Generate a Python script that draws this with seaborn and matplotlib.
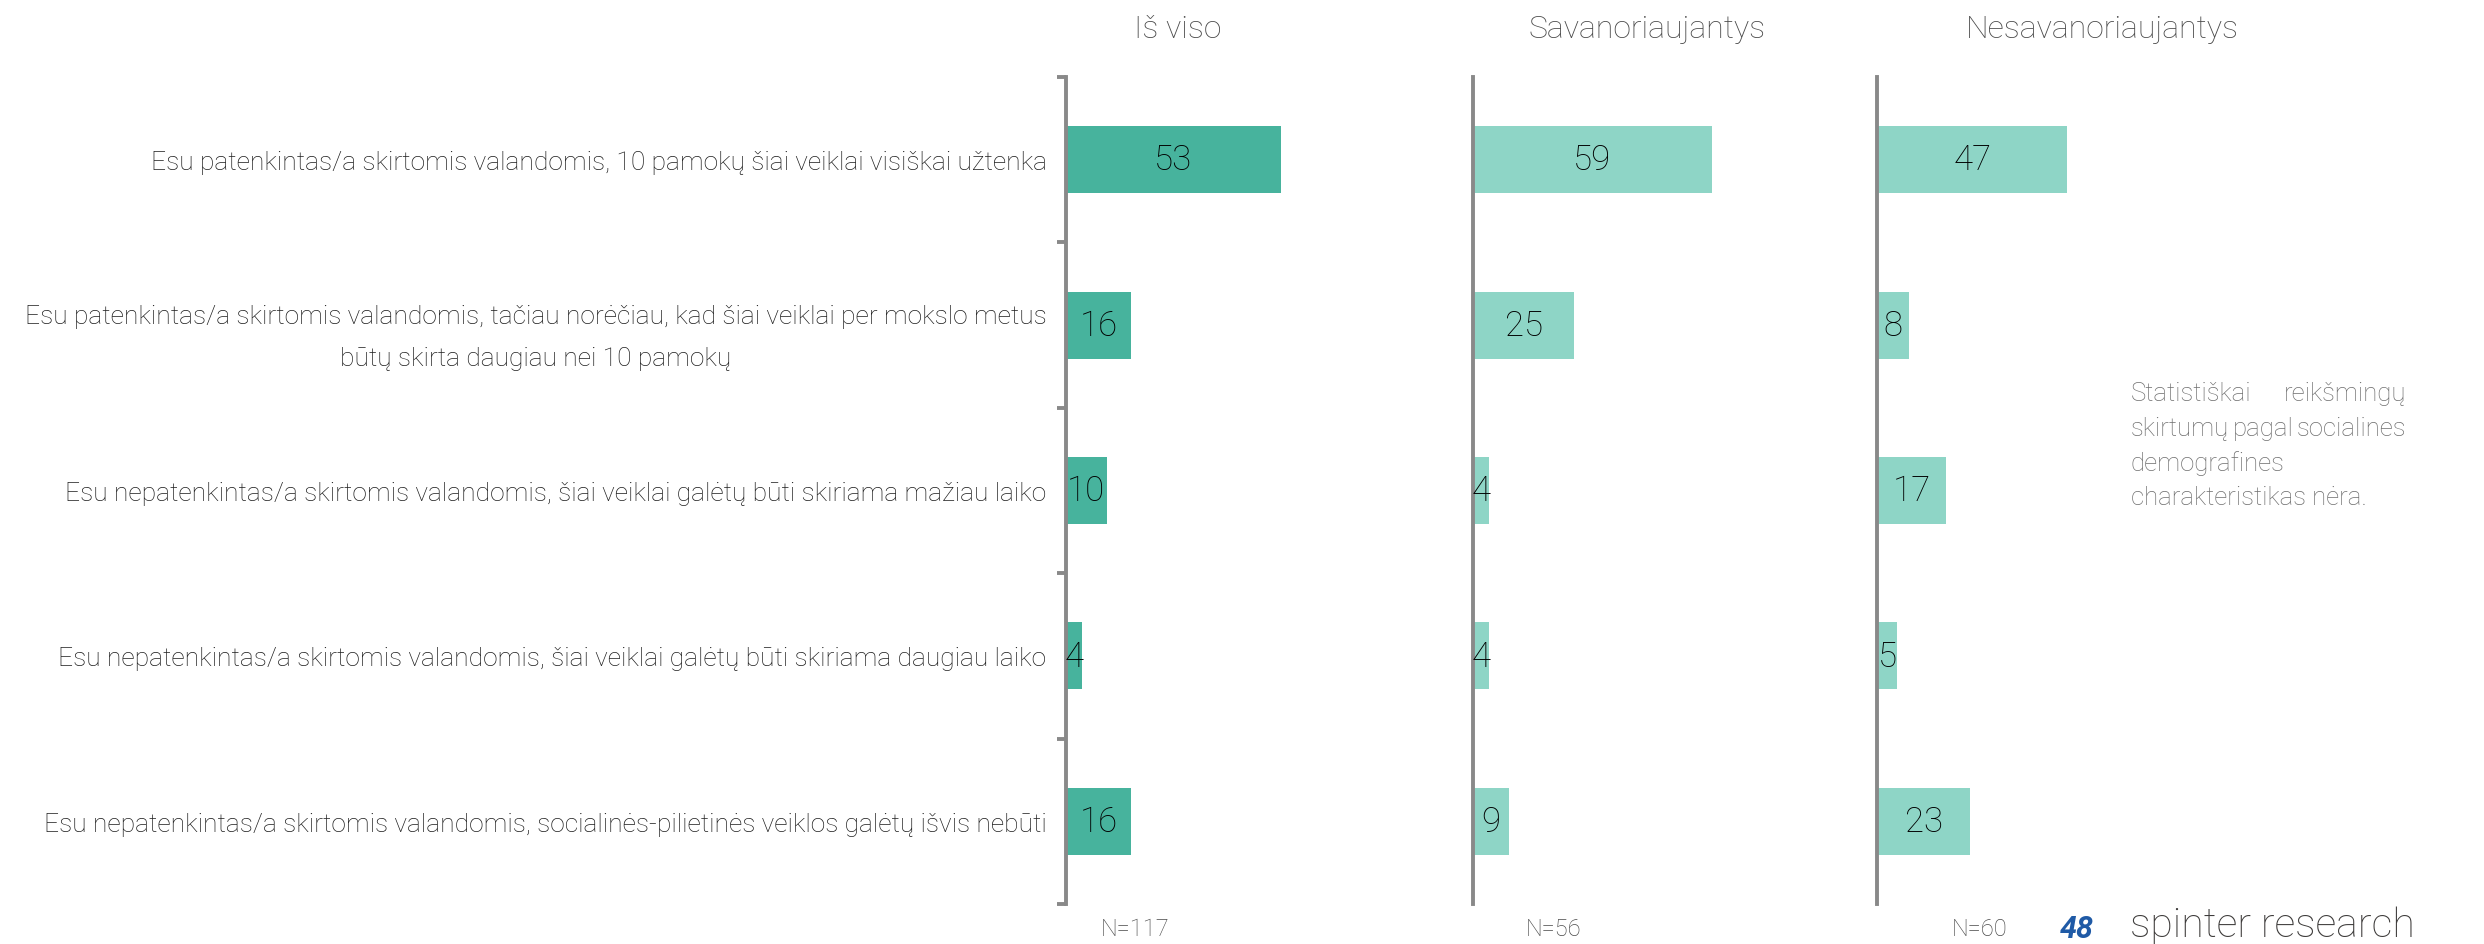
import matplotlib
matplotlib.use("Agg")
import matplotlib.pyplot as plt
import seaborn as sns
import pandas as pd
import numpy as np

categories = [
    "Esu patenkintas/a skirtomis valandomis, 10 pamokų šiai veiklai visiškai užtenka",
    "Esu patenkintas/a skirtomis valandomis, tačiau norėčiau, kad šiai veiklai per mokslo metus\nbūtų skirta daugiau nei 10 pamokų",
    "Esu nepatenkintas/a skirtomis valandomis, šiai veiklai galėtų būti skiriama mažiau laiko",
    "Esu nepatenkintas/a skirtomis valandomis, šiai veiklai galėtų būti skiriama daugiau laiko",
    "Esu nepatenkintas/a skirtomis valandomis, socialinės-pilietinės veiklos galėtų išvis nebūti",
]
groups = ["Iš viso", "Savanoriaujantys", "Nesavanoriaujantys"]
values_total = [53, 16, 10, 4, 16]
values_vol = [59, 25, 4, 4, 9]
values_nonvol = [47, 8, 17, 5, 23]
sample_sizes = ["N=117", "N=56", "N=60"]
note_lines = [["Statistiškai", "reikšmingų"],
              ["skirtumų", "pagal", "socialines"],
              ["demografines"],
              ["charakteristikas nėra."]]

sns.set_theme(style="white")
plt.rcParams['font.family'] = ['Roboto', 'DejaVu Sans']

W, H = 2484, 945
fig = plt.figure(figsize=(W / 100, H / 100), dpi=100)

colors = ["#47b39d", "#8ed5c6", "#8ed5c6"]
series = [values_total, values_vol, values_nonvol]
lefts = [1066, 1473, 1877]
panel_w = 405
top_px, bot_px = 78, 905
title_x = [1178, 1647, 2102]
n_x = [1135, 1554, 1980]
fw = "light"

for i, (g, vals) in enumerate(zip(groups, series)):
    ax = fig.add_axes([lefts[i] / W, 1 - bot_px / H, panel_w / W, (bot_px - top_px) / H])
    df = pd.DataFrame({"cat": categories, "val": vals})
    sns.barplot(data=df, x="val", y="cat", ax=ax, color=colors[i], width=0.405,
                saturation=1, order=categories, edgecolor="none")
    ax.set_xlim(0, 100)
    ax.set_ylim(len(categories) - 0.5, -0.5)
    ax.set_xlabel("")
    ax.set_ylabel("")
    ax.set_xticks([])
    for s in ["top", "right", "bottom"]:
        ax.spines[s].set_visible(False)
    ax.spines["left"].set_color("#898989")
    ax.spines["left"].set_linewidth(2.8)
    ax.patch.set_alpha(0)
    if i == 0:
        ax.set_yticks(range(len(categories)))
        ax.set_yticklabels(categories, fontsize=19, color="#1e1e1e", fontweight=fw,
                           linespacing=1.95)
        for lbl in ax.get_yticklabels():
            lbl.set_multialignment("center")
        ax.tick_params(axis="y", which="major", length=0, pad=14)
        ax.set_yticks(np.arange(-0.5, len(categories), 1.0), minor=True)
        ax.tick_params(axis="y", which="minor", length=6.5, width=2.8, color="#898989", left=True)
    else:
        ax.set_yticks([])
    for c in ax.containers:
        ax.bar_label(c, label_type="center", fontsize=25, color="#000000", fontweight=fw)
    fig.text(title_x[i] / W, 1 - 29 / H, g, ha="center", va="center", fontsize=23,
             color="#4a4a4a", fontweight=fw)
    fig.text(n_x[i] / W, 1 - 930 / H, sample_sizes[i], ha="center", va="center", fontsize=17,
             color="#4a4a4a", fontweight=fw)

# note text, justified
nx0, nx1 = 2131, 2406
ny = [394, 429, 464, 498]
nfs = 18.5
renderer = fig.canvas.get_renderer()
for li, (line, y) in enumerate(zip(note_lines, ny)):
    texts = [fig.text(nx0 / W, 1 - y / H, w, ha="left", va="center", fontsize=nfs,
                      color="#6e6e6e", fontweight=fw) for w in line]
    if len(line) > 1:
        widths = [t.get_window_extent(renderer).width for t in texts]
        gap = ((nx1 - nx0) - sum(widths)) / (len(line) - 1)
        x = nx0
        for t, wd in zip(texts, widths):
            t.set_x(x / W)
            x += wd + gap

fig.text(2077 / W, 1 - 930 / H, "48", ha="center", va="center", fontsize=22,
         color="#1f5aa6", fontweight="bold", fontstyle="italic")
fig.text(2130 / W, 1 - 926 / H, "spinter research", ha="left", va="center", fontsize=29.5,
         color="#3d3b3a", fontweight=fw)

fig.savefig("out.png", dpi=100)
